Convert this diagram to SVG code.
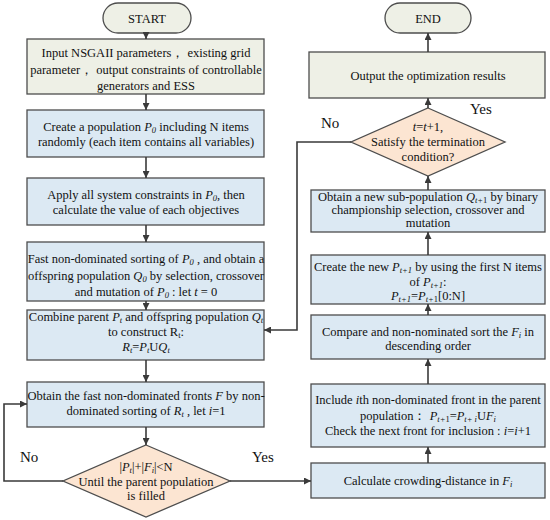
<svg xmlns="http://www.w3.org/2000/svg" width="550" height="520" viewBox="0 0 550 520">
<defs>
<marker id="ah" viewBox="0 0 10 10" refX="10" refY="5" markerWidth="7" markerHeight="7" orient="auto" markerUnits="userSpaceOnUse">
<path d="M0,0 L10,5 L0,10 z" fill="#3a3a3a"/>
</marker>
<style>
text{font-family:"Liberation Serif","Times New Roman",serif;font-size:12.5px;fill:#111;text-anchor:middle}
.lbl{font-size:15px;text-anchor:start}
.g{fill:#eef0e6;stroke:#4d4d4d;stroke-width:1.3}
.b{fill:#dce9f3;stroke:#4d4d4d;stroke-width:1.3}
.d{fill:#fce5d2;stroke:#4d4d4d;stroke-width:1.3}
.c{fill:none;stroke:#3a3a3a;stroke-width:1.6;marker-end:url(#ah)}
.i{font-style:italic}
.s{font-style:italic;font-size:8.5px}
</style>
</defs>
<g id="start"><rect class="g" x="103" y="3" width="88" height="30" rx="15"/><text x="147" y="23">START</text></g>
<g id="input"><rect class="g" x="27" y="39" width="237" height="55"/>
<text x="146" y="57">Input NSGAII parameters， existing grid</text>
<text x="146" y="74">parameter， output constraints of controllable</text>
<text x="146" y="90">generators and ESS</text></g>
<g id="create"><rect class="b" x="27" y="110" width="237" height="47"/>
<text x="146" y="131">Create a population <tspan class="i">P</tspan><tspan class="s" dy="2">0</tspan><tspan dy="-2"> including N items</tspan></text>
<text x="146" y="146">randomly (each item contains all variables)</text></g>
<g id="apply"><rect class="b" x="27" y="178" width="237" height="47"/>
<text x="146" y="199">Apply all system constraints in <tspan class="i">P</tspan><tspan class="s" dy="2">0</tspan><tspan dy="-2">, then</tspan></text>
<text x="146" y="214">calculate the value of each objectives</text></g>
<g id="fast"><rect class="b" x="27" y="242" width="237" height="59"/>
<text x="146" y="263">Fast non-dominated sorting of <tspan class="i">P</tspan><tspan class="s" dy="2">0</tspan><tspan dy="-2"> , and obtain a</tspan></text>
<text x="146" y="280">offspring population <tspan class="i">Q</tspan><tspan class="s" dy="2">0</tspan><tspan dy="-2"> by  selection, crossover</tspan></text>
<text x="146" y="296">and mutation of <tspan class="i">P</tspan><tspan class="s" dy="2">0</tspan><tspan dy="-2"> : let </tspan><tspan class="i">t</tspan> = 0</text></g>
<g id="combine"><rect class="b" x="27" y="310" width="237" height="50"/>
<text x="146" y="321">Combine parent <tspan class="i">P</tspan><tspan class="s" dy="2">t</tspan><tspan dy="-2"> and offspring population </tspan><tspan class="i">Q</tspan><tspan class="s" dy="2">t</tspan></text>
<text x="146" y="336">to construct R<tspan font-size="8.5" dy="2">t</tspan><tspan dy="-2">:</tspan></text>
<text x="146" y="351"><tspan class="i">R</tspan><tspan class="s" dy="2">t</tspan><tspan dy="-2">=</tspan><tspan class="i">P</tspan><tspan class="s" dy="2">t</tspan><tspan dy="-2">U</tspan><tspan class="i">Q</tspan><tspan class="s" dy="2">t</tspan></text></g>
<g id="fronts"><rect class="b" x="27" y="382" width="237" height="45"/>
<text x="146" y="400">Obtain the fast non-dominated fronts <tspan class="i">F</tspan> by non-</text>
<text x="146" y="415">dominated sorting of <tspan class="i">R</tspan><tspan class="s" dy="2">t</tspan><tspan dy="-2"> , let </tspan><tspan class="i">i</tspan>=1</text></g>
<g id="fill"><polygon class="d" points="146,445 230,481 146,517 63,481"/>
<text x="146" y="471">|<tspan class="i">P</tspan><tspan class="s" dy="2">t</tspan><tspan dy="-2">|+|</tspan><tspan class="i">F</tspan><tspan class="s" dy="2">i</tspan><tspan dy="-2">|&lt;N</tspan></text>
<text x="146" y="486">Until the parent population</text>
<text x="146" y="500">is filled</text></g>
<g id="end"><rect class="g" x="385" y="3" width="86" height="30" rx="15"/><text x="428" y="23">END</text></g>
<g id="output"><rect class="g" x="309" y="52" width="236" height="46"/>
<text x="428" y="80">Output the optimization results</text></g>
<g id="term"><polygon class="d" points="428,108 505,142 428,176 351,142"/>
<text x="428" y="131"><tspan class="i">t</tspan>=<tspan class="i">t</tspan>+1,</text>
<text x="428" y="146">Satisfy the termination</text>
<text x="428" y="161">condition?</text></g>
<g id="subpop"><rect class="b" x="311" y="190" width="234" height="42"/>
<text x="428" y="201">Obtain a new sub-population <tspan class="i">Q</tspan><tspan class="s" dy="2">t+</tspan><tspan font-size="8.5">1</tspan><tspan dy="-2"> by binary</tspan></text>
<text x="428" y="214">championship selection, crossover and</text>
<text x="428" y="227">mutation</text></g>
<g id="newp"><rect class="b" x="311" y="255" width="234" height="49"/>
<text x="428" y="271">Create the new <tspan class="i">P</tspan><tspan class="s" dy="2">t+1</tspan><tspan dy="-2"> by using the first N items</tspan></text>
<text x="428" y="286">of <tspan class="i">P</tspan><tspan class="s" dy="2">t+1</tspan><tspan dy="-2">:</tspan></text>
<text x="428" y="300"><tspan class="i">P</tspan><tspan class="s" dy="2">t+1</tspan><tspan dy="-2">=</tspan><tspan class="i">P</tspan><tspan class="s" dy="2">t+</tspan><tspan font-size="8.5">1</tspan><tspan dy="-2">[0:N]</tspan></text></g>
<g id="compare"><rect class="b" x="311" y="315" width="234" height="44"/>
<text x="428" y="336">Compare and non-nominated sort the <tspan class="i">F</tspan><tspan class="s" dy="2">i</tspan><tspan dy="-2"> in</tspan></text>
<text x="428" y="350">descending order</text></g>
<g id="include"><rect class="b" x="311" y="384" width="234" height="63"/>
<text x="428" y="404">Include <tspan class="i">i</tspan>th non-dominated front in the parent</text>
<text x="428" y="420">population： <tspan class="i">P</tspan><tspan class="s" dy="2">t+</tspan><tspan font-size="8.5">1</tspan><tspan dy="-2">=</tspan><tspan class="i">P</tspan><tspan class="s" dy="2">t+ i</tspan><tspan dy="-2">U</tspan><tspan class="i">F</tspan><tspan class="s" dy="2">i</tspan></text>
<text x="428" y="435">Check  the next front for inclusion : <tspan class="i">i</tspan>=<tspan class="i">i</tspan>+1</text></g>
<g id="crowd"><rect class="b" x="311" y="463" width="234" height="35"/>
<text x="428" y="485">Calculate crowding-distance in <tspan class="i">F</tspan><tspan class="s" dy="2">i</tspan></text></g>
<g id="connectors">
<line class="c" x1="146" y1="33" x2="146" y2="39"/>
<line class="c" x1="146" y1="94" x2="146" y2="110"/>
<line class="c" x1="146" y1="157" x2="146" y2="178"/>
<line class="c" x1="146" y1="225" x2="146" y2="242"/>
<line class="c" x1="146" y1="301" x2="146" y2="310"/>
<line class="c" x1="146" y1="360" x2="146" y2="382"/>
<line class="c" x1="146" y1="427" x2="146" y2="445"/>
<polyline class="c" points="63,481 4,481 4,404 27,404"/>
<line class="c" x1="230" y1="481" x2="311" y2="481"/>
<line class="c" x1="428" y1="463" x2="428" y2="447"/>
<line class="c" x1="428" y1="384" x2="428" y2="359"/>
<line class="c" x1="428" y1="315" x2="428" y2="304"/>
<line class="c" x1="428" y1="255" x2="428" y2="232"/>
<line class="c" x1="428" y1="190" x2="428" y2="176"/>
<line class="c" x1="428" y1="108" x2="428" y2="98"/>
<line class="c" x1="428" y1="52" x2="428" y2="33"/>
<polyline class="c" points="351,142 297,142 297,330 264,330"/>
<text class="lbl" x="20" y="462">No</text>
<text class="lbl" x="252" y="462">Yes</text>
<text class="lbl" x="321" y="128">No</text>
<text class="lbl" x="470" y="114">Yes</text>
</g>
</svg>
